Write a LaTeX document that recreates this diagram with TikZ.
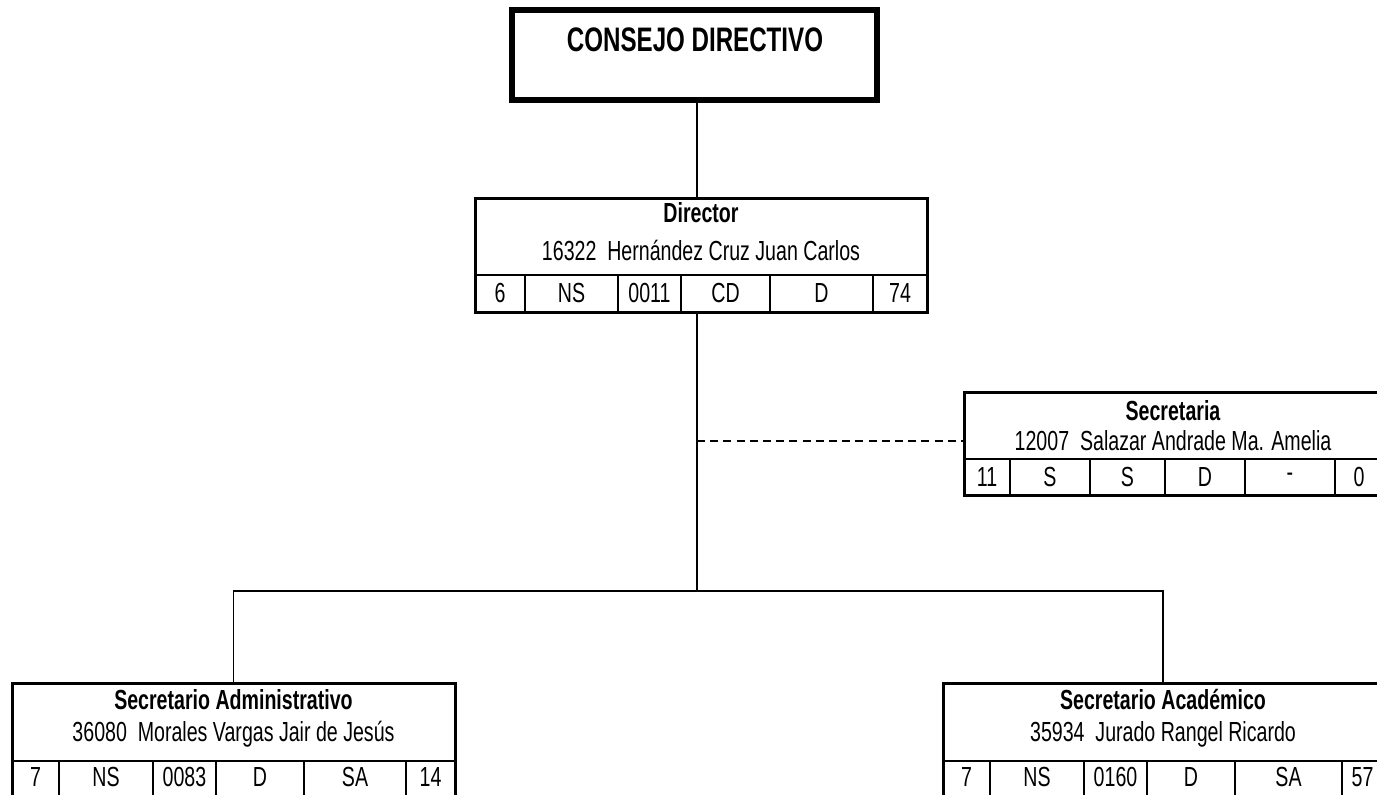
\documentclass[tikz,border=0pt]{standalone}
\usepackage{fontspec}
\setmainfont{Liberation Sans}[FakeStretch=0.71]
\usetikzlibrary{fit}

\begin{document}
\begin{tikzpicture}[x=0.5pt, y=-0.5pt,
    caja/.style={draw, line width=1.5pt, inner sep=0pt},
    texto/.style={font=\fontsize{13.8}{16}\selectfont, inner sep=0pt},
    cargo/.style={texto, font=\fontsize{13.8}{16}\selectfont\bfseries},
    linea/.style={line width=0.9pt},
    celda/.style={line width=1.1pt}]
    % Page frame
    \useasboundingbox (0,0) rectangle (1377,794);
    \clip (0,0) rectangle (1377,794);

    % Consejo directivo
    \node[caja, line width=3.2pt, fit={(512,10) (877,100)}] (consejo) {};
    \node[cargo, font=\fontsize{17}{20}\selectfont\bfseries] (consejo-t) at (695,40) {CONSEJO DIRECTIVO};

    % Director
    \node[caja, fit={(475,198) (927,312)}] (dir) {};
    \node[cargo] (dir-t) at (701,213) {Director};
    \node[texto] (dir-n) at (701,250) {16322\ \ Hernández Cruz Juan Carlos};
    \draw[celda] (475,275) -- (927,275);
    \foreach \xa/\xb/\v [count=\i] in {475/525/6, 525/618/NS, 618/681/0011, 681/770/CD, 770/873/D, 873/927/74}
        \node[texto] (dir-\i) at ({(\xa+\xb)/2},293) {\v};
    \foreach \x in {525,618,681,770,873}
        \draw[celda] (\x,275) -- (\x,312);

    % Secretaria
    \node[caja, fit={(964,392) (1383,495)}] (sec) {};
    \node[cargo] (sec-t) at (1173,411) {Secretaria};
    \node[texto] (sec-n) at (1173,441) {12007\ \ Salazar Andrade Ma. Amelia};
    \draw[celda] (964,459) -- (1383,459);
    \foreach \xa/\xb/\v [count=\i] in {964/1010/11, 1010/1090/S, 1090/1165/S, 1165/1245/D, 1245/1335/-, 1335/1383/0}
        \node[texto] (sec-\i) at ({(\xa+\xb)/2},477) {\v};
    \foreach \x in {1010,1090,1165,1245,1335}
        \draw[celda] (\x,459) -- (\x,495);

    % Secretario administrativo
    \node[caja, fit={(12,683) (455,815)}] (adm) {};
    \node[cargo] (adm-t) at (233.5,700) {Secretario Administrativo};
    \node[texto] (adm-n) at (233.5,734) {36080\ \ Morales Vargas Jair de Jesús};
    \draw[celda] (12,761) -- (455,761);
    \foreach \xa/\xb/\v [count=\i] in {12/59/7, 59/153/NS, 153/216/0083, 216/304/D, 304/406/SA, 406/455/14}
        \node[texto] (adm-\i) at ({(\xa+\xb)/2},777) {\v};
    \foreach \x in {59,153,216,304,406}
        \draw[celda] (\x,761) -- (\x,815);

    % Secretario academico
    \node[caja, fit={(943,683) (1383,815)}] (aca) {};
    \node[cargo] (aca-t) at (1163,700) {Secretario Académico};
    \node[texto] (aca-n) at (1163,734) {35934\ \ Jurado Rangel Ricardo};
    \draw[celda] (943,761) -- (1383,761);
    \foreach \xa/\xb/\v [count=\i] in {943/990/7, 990/1084/NS, 1084/1147/0160, 1147/1235/D, 1235/1342/SA, 1342/1383/57}
        \node[texto] (aca-\i) at ({(\xa+\xb)/2},777) {\v};
    \foreach \x in {990,1084,1147,1235,1342}
        \draw[celda] (\x,761) -- (\x,815);

    % Connectors
    \coordinate (eje) at (697,0);
    \coordinate (barra) at (697,591);
    \draw[linea] (consejo.south -| eje) -- (dir.north -| eje);
    \draw[linea] (dir.south -| eje) -- (barra);
    \draw[linea, dash pattern=on 4pt off 2.6pt] (eje |- sec-n) -- (sec.west |- sec-n);
    \draw[linea] (adm.north) -- (adm.north |- barra) -- (aca.north |- barra) -- (aca.north);
\end{tikzpicture}
\end{document}
